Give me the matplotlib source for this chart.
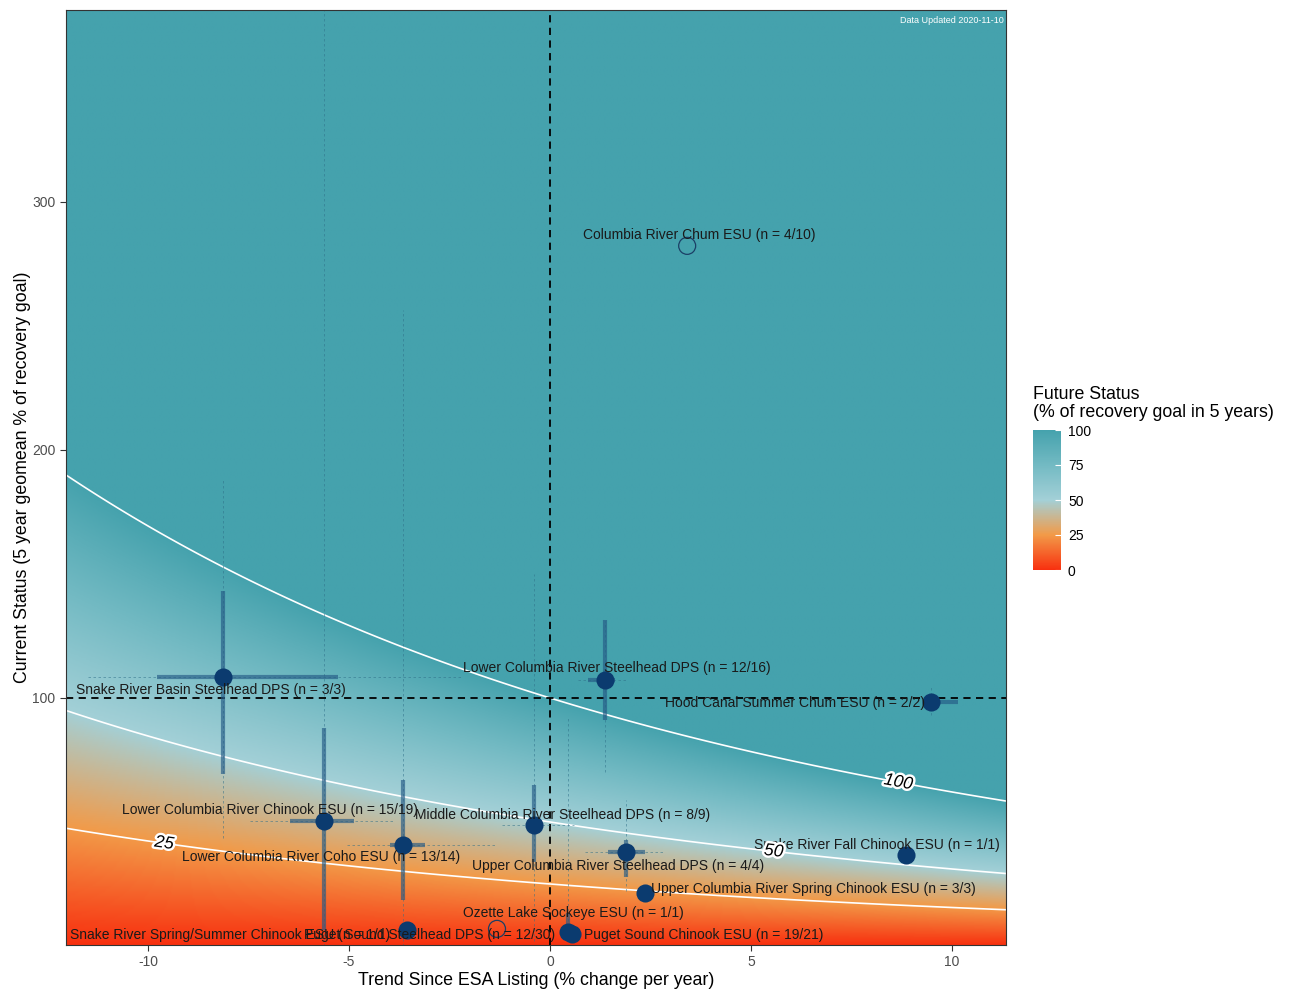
import numpy as np
import matplotlib
matplotlib.use("Agg")
import matplotlib.pyplot as plt
from matplotlib.colors import LinearSegmentedColormap
import matplotlib.patheffects as pe

plt.rcParams['font.family'] = ['Liberation Sans', 'DejaVu Sans']
plt.rcParams['axes.unicode_minus'] = False

# ---- data ----
names = ["Snake River Basin Steelhead DPS", "Lower Columbia River Steelhead DPS",
         "Hood Canal Summer Chum ESU", "Columbia River Chum ESU",
         "Lower Columbia River Chinook ESU", "Lower Columbia River Coho ESU",
         "Middle Columbia River Steelhead DPS", "Upper Columbia River Steelhead DPS",
         "Snake River Fall Chinook ESU", "Upper Columbia River Spring Chinook ESU",
         "Ozette Lake Sockeye ESU", "Puget Sound Chinook ESU",
         "Puget Sound Steelhead DPS", "Snake River Spring/Summer Chinook ESU"]
n_used = [3, 12, 2, 4, 15, 13, 8, 4, 1, 3, 1, 19, 12, 1]
n_total = [3, 16, 2, 10, 19, 14, 9, 4, 1, 3, 1, 21, 30, 1]
trend = [-8.13, 1.37, 9.48, 3.41, -5.62, -3.66, -0.40, 1.89, 8.86, 2.36, 0.45, 0.55, -1.32, -3.56]
status = [108.5, 107.3, 98.4, 282.3, 50.4, 40.7, 48.8, 37.9, 36.7, 21.4, 5.5, 4.8, 6.9, 6.5]
# inner (thick) ranges
trend_lo = [-9.78, 0.95, 9.33, np.nan, -6.47, -3.98, np.nan, 1.45, np.nan, np.nan, np.nan, np.nan, np.nan, np.nan]
trend_hi = [-5.27, 1.62, 10.15, np.nan, -4.88, -3.11, np.nan, 2.35, np.nan, np.nan, np.nan, np.nan, np.nan, np.nan]
status_lo = [69.4, 91.1, np.nan, np.nan, 6.5, 18.5, 34.0, 27.8, np.nan, 18.0, 5.0, np.nan, np.nan, np.nan]
status_hi = [143.0, 131.5, np.nan, np.nan, 87.9, 67.0, 65.0, 42.7, np.nan, 24.5, 13.5, np.nan, np.nan, np.nan]
# outer (dotted) ranges
trend_min = [-11.5, 0.7, np.nan, np.nan, -7.46, -5.05, -1.2, 0.87, np.nan, np.nan, np.nan, np.nan, np.nan, np.nan]
trend_max = [-2.2, 1.9, np.nan, np.nan, -3.85, -1.32, 0.6, 2.86, np.nan, np.nan, np.nan, np.nan, np.nan, np.nan]
status_min = [43.5, 70.0, 93.0, np.nan, 0.0, 0.0, 2.0, 22.0, np.nan, np.nan, 2.0, np.nan, np.nan, np.nan]
status_max = [188.7, 131.0, 105.0, np.nan, 380.0, 256.5, 150.0, 59.0, np.nan, np.nan, 92.0, np.nan, np.nan, np.nan]
# label placement (repelled positions)
label_x = [-8.43, 1.67, 6.09, 3.71, -6.97, -5.70, 0.30, 1.69, 8.13, 6.54, 0.57, 3.83, -2.99, -7.96]
label_y = [103.2, 112.1, 98.0, 286.7, 54.8, 35.9, 52.8, 32.3, 40.7, 23.0, 13.3, 4.4, 4.4, 4.4]

contour_levels = [25, 50, 100]
contour_label_x = [-9.6, 5.56, 8.66]
cbar_ticks = [0, 25, 50, 75, 100]

xlim = (-12.04, 11.34)
ylim = (0.4, 377.4)

cmap = LinearSegmentedColormap.from_list(
    "fut", [(0, '#F8300F'), (0.25, '#F29A48'), (0.5, '#A3D0D7'), (0.75, '#73BAC3'), (1.0, '#45A2AD')])

fig = plt.figure(figsize=(12.92, 9.90), dpi=100)
ax = fig.add_axes([66/1292, 1 - 945/990, 940/1292, 935/990])

gx = np.linspace(xlim[0], xlim[1], 600)
gy = np.linspace(ylim[0], ylim[1], 600)
X, Y = np.meshgrid(gx, gy)
F = Y * (1 + X / 100) ** 5
im = ax.imshow(np.clip(F, 0, 100), extent=[xlim[0], xlim[1], ylim[0], ylim[1]], origin='lower',
               aspect='auto', cmap=cmap, vmin=0, vmax=100, interpolation='bilinear', zorder=0)
ax.contour(X, Y, F, levels=contour_levels, colors='white', linewidths=1.2, zorder=1)

ax.axvline(0, color='black', ls=(0, (4, 3)), lw=1.3, zorder=2)
ax.axhline(100, color='black', ls=(0, (4, 3)), lw=1.3, zorder=2)

for i in range(len(names)):
    x, y = trend[i], status[i]
    if not np.isnan(trend_min[i]):
        ax.plot([trend_min[i], trend_max[i]], [y, y], color='#2F6F88', lw=0.6, ls=(0, (3, 3)), alpha=0.6, zorder=2)
    if not np.isnan(status_min[i]):
        ax.plot([x, x], [status_min[i], status_max[i]], color='#2F6F88', lw=0.6, ls=(0, (3, 3)), alpha=0.6, zorder=2)
    if not np.isnan(trend_lo[i]):
        ax.plot([trend_lo[i], trend_hi[i]], [y, y], color='#245A85', lw=3, alpha=0.65, zorder=3, solid_capstyle='butt')
    if not np.isnan(status_lo[i]):
        ax.plot([x, x], [status_lo[i], status_hi[i]], color='#245A85', lw=3, alpha=0.65, zorder=3, solid_capstyle='butt')
    if n_used[i] / n_total[i] < 0.5:
        ax.scatter(x, y, s=150, facecolors='none', edgecolors='#1B3F66', linewidths=0.9, zorder=4)
    else:
        ax.scatter(x, y, s=170, color='#0B3B6F', zorder=4, linewidths=0)
    ax.text(label_x[i], label_y[i], f"{names[i]} (n = {n_used[i]}/{n_total[i]})",
            ha='center', va='center', fontsize=10, color='#1a1a1a', zorder=5)

ax.set_xlim(xlim)
ax.set_ylim(ylim)

# contour labels along the curves
for lev, lx in zip(contour_levels, contour_label_x):
    ly = lev / (1 + lx / 100) ** 5
    p1 = ax.transData.transform((lx - 0.3, lev / (1 + (lx - 0.3) / 100) ** 5))
    p2 = ax.transData.transform((lx + 0.3, lev / (1 + (lx + 0.3) / 100) ** 5))
    ang = np.degrees(np.arctan2(p2[1] - p1[1], p2[0] - p1[0]))
    ax.text(lx, ly, str(lev), rotation=ang, ha='center', va='center', fontsize=12.5, style='italic',
            color='black', zorder=5, path_effects=[pe.withStroke(linewidth=3.5, foreground='white')])

ax.text(0.998, 0.994, "Data Updated 2020-11-10", transform=ax.transAxes, ha='right', va='top',
        fontsize=6.5, color='white', zorder=6)

ax.set_xticks([-10, -5, 0, 5, 10])
ax.set_yticks([100, 200, 300])
ax.tick_params(colors='#333333', labelcolor='#4d4d4d', labelsize=10, length=4)
for s in ax.spines.values():
    s.set_color('#333333')
    s.set_linewidth(0.8)
ax.set_xlabel("Trend Since ESA Listing (% change per year)", fontsize=12.8, color='black', labelpad=2)
ax.set_ylabel("Current Status (5 year geomean % of recovery goal)", fontsize=12.8, color='black', labelpad=1)

cax = fig.add_axes([1033/1292, 1 - 570/990, 28/1292, 140/990])
cb = fig.colorbar(im, cax=cax, ticks=cbar_ticks)
cb.outline.set_visible(False)
cb.ax.tick_params(length=4, color='white', labelsize=10, labelcolor='black', direction='in', pad=5)
fig.text(1033/1292, 1 - 386/990, "Future Status\n(% of recovery goal in 5 years)", ha='left', va='top',
         fontsize=12.8, linespacing=1.1)

fig.savefig("out.png", dpi=100)
